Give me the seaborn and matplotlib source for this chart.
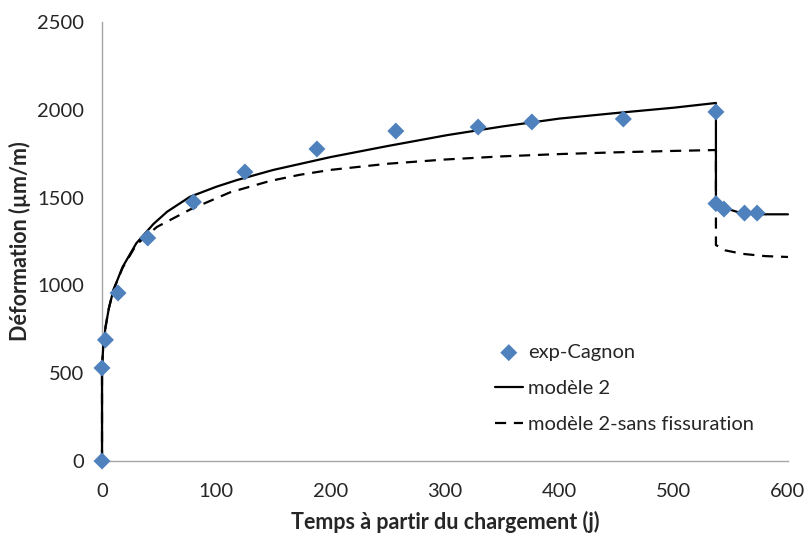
import matplotlib
matplotlib.use("Agg")
import matplotlib.pyplot as plt
import seaborn as sns
import pandas as pd

# experimental points (exp-Cagnon)
exp_t = [0, 0, 3, 14, 40, 80, 125, 188, 257, 329, 376, 456, 537, 537, 544, 562, 573]
exp_def = [0, 530, 690, 957, 1270, 1475, 1646, 1777, 1879, 1902, 1931, 1948, 1988, 1466, 1435, 1412, 1412]

# modèle 2
mod_t = [0, 0, 1, 3, 6, 10, 18, 30, 45, 57, 77, 100, 118, 150, 200, 250, 302, 350,
         400, 450, 500, 537, 537, 545, 560, 575, 600]
mod_def = [0, 535, 640, 760, 870, 974, 1105, 1240, 1350, 1420, 1505, 1562, 1600, 1658,
           1731, 1794, 1856, 1905, 1950, 1982, 2012, 2039, 1475, 1440, 1410, 1405, 1405]

# modèle 2-sans fissuration
sf_t = [0, 0, 1, 3, 6, 10, 18, 30, 48, 77, 112, 147, 173, 200, 250, 300, 350, 400,
        450, 500, 537, 537, 545, 560, 580, 600]
sf_def = [0, 535, 640, 760, 870, 974, 1100, 1232, 1333, 1432, 1530, 1595, 1630, 1658,
          1693, 1717, 1735, 1748, 1758, 1766, 1771, 1230, 1200, 1180, 1167, 1162]

exp = pd.DataFrame({"t": exp_t, "d": exp_def})
mod = pd.DataFrame({"t": mod_t, "d": mod_def})
sf = pd.DataFrame({"t": sf_t, "d": sf_def})

sns.set_style("white")
plt.rcParams["font.family"] = ["Lato", "DejaVu Sans"]

fig = plt.figure(figsize=(8.07, 5.33), dpi=100)
ax = fig.add_axes([0.1264, 0.135, 0.85, 0.8237])

sns.lineplot(data=mod, x="t", y="d", sort=False, estimator=None, color="black",
             linewidth=1.6, ax=ax, label="modèle 2", zorder=3)
sns.lineplot(data=sf, x="t", y="d", sort=False, estimator=None, color="black",
             linewidth=1.6, ax=ax, label="modèle 2-sans fissuration", zorder=3,
             dashes=False)
ax.lines[-1].set_dashes([5, 3.5])
for ln in ax.lines:
    ln.set_clip_on(False)
sns.scatterplot(data=exp, x="t", y="d", marker="D", color="#4F81BD", s=75,
                edgecolor="none", ax=ax, label="exp-Cagnon", zorder=4, clip_on=False)

ax.set_xlim(0, 600)
ax.set_ylim(0, 2500)
ax.set_xticks(range(0, 601, 100))
ax.set_yticks(range(0, 2501, 500))
ax.tick_params(axis="both", length=0, labelsize=14.5, colors="#262626")
ax.tick_params(axis="y", pad=13)
ax.tick_params(axis="x", pad=16)
for s in ["top", "right"]:
    ax.spines[s].set_visible(False)
for s in ["left", "bottom"]:
    ax.spines[s].set_color("#A6A6A6")
    ax.spines[s].set_linewidth(1)
ax.set_xlabel("Temps à partir du chargement (j)", fontsize=15.5, fontweight="bold", labelpad=8)
ax.set_ylabel("Déformation (µm/m)", fontsize=15.5, fontweight="bold", labelpad=4)

h, l = ax.get_legend_handles_labels()
order = [l.index("exp-Cagnon"), l.index("modèle 2"), l.index("modèle 2-sans fissuration")]
ax.legend([h[i] for i in order], [l[i] for i in order], loc="upper left",
          bbox_to_anchor=(0.603, 0.37), bbox_transform=fig.transFigure,
          frameon=False, fontsize=14.5, handlelength=1.4, handletextpad=0.25,
          labelspacing=0.95, borderaxespad=0)

fig.savefig("out.png", dpi=100)
